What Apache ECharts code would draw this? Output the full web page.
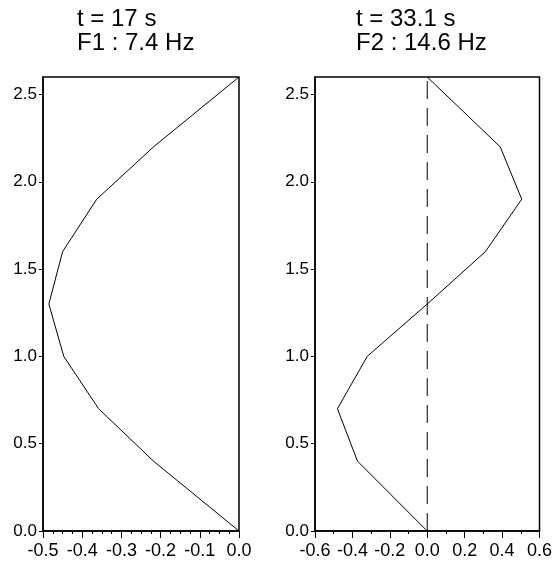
<!DOCTYPE html>
<html>
<head>
<meta charset="utf-8">
<script src="https://cdn.jsdelivr.net/npm/echarts@6/dist/echarts.min.js"></script>
<style>html,body{margin:0;padding:0;background:#fff}#c{width:555px;height:561px}</style>
</head>
<body>
<div id="c"></div>
<script>
const heights = [0.0, 0.4, 0.7, 1.0, 1.3, 1.6, 1.9, 2.2, 2.6];
const mode1 = [0.0, -0.218, -0.358, -0.447, -0.485, -0.45, -0.363, -0.218, 0.0];
const mode2 = [0.0, -0.373, -0.48, -0.321, 0.0, 0.311, 0.505, 0.39, 0.0];
const refX = [0.0, 0.0];
const refY = [0.0, 2.6];
const title1 = ['t = 17 s', 'F1 : 7.4 Hz'];
const title2 = ['t = 33.1 s', 'F2 : 14.6 Hz'];

const FONT = '"Liberation Sans", Arial, sans-serif';
const fmt = v => (Math.abs(v) < 1e-9 ? 0 : v).toFixed(1);

function xAxis(idx, min, max, interval, minorSplit) {
  return {
    type: 'value', gridIndex: idx, min: min, max: max, interval: interval,
    axisLine: {show: true, onZero: false, lineStyle: {color: '#000', width: 1.5}},
    axisTick: {show: true, length: 7, lineStyle: {color: '#000', width: 1}},
    minorTick: {show: true, splitNumber: minorSplit, length: 3, lineStyle: {color: '#000', width: 1}},
    splitLine: {show: false},
    axisLabel: {color: '#000', fontSize: 18, fontFamily: FONT, margin: 11, formatter: fmt, showMinLabel: true, showMaxLabel: true}
  };
}
function yAxis(idx) {
  return {
    type: 'value', gridIndex: idx, min: 0, max: 2.6, interval: 0.5,
    axisLine: {show: true, onZero: false, lineStyle: {color: '#000', width: 1.5}},
    axisTick: {show: true, length: 4, lineStyle: {color: '#000', width: 1}},
    splitLine: {show: false},
    axisLabel: {color: '#000', fontSize: 17, fontFamily: FONT, margin: 6, formatter: fmt, showMaxLabel: false}
  };
}

const chart = echarts.init(document.getElementById('c'), null, {renderer: 'canvas'});
chart.setOption({
  animation: false,
  backgroundColor: '#fff',
  title: [
    {text: title1.join('\n'), left: 77, top: 7, padding: 0, textStyle: {fontSize: 24, fontWeight: 'normal', fontFamily: FONT, color: '#000', lineHeight: 24}},
    {text: title2.join('\n'), left: 356, top: 7, padding: 0, textStyle: {fontSize: 24, fontWeight: 'normal', fontFamily: FONT, color: '#000', lineHeight: 24}}
  ],
  grid: [
    {left: 43, top: 77, width: 196, height: 454, show: true, borderColor: '#000', borderWidth: 1.5, backgroundColor: 'transparent'},
    {left: 315, top: 77, width: 226, height: 454, show: true, borderColor: '#000', borderWidth: 1.5, backgroundColor: 'transparent'}
  ],
  xAxis: [xAxis(0, -0.5, 0.0, 0.1, 4), xAxis(1, -0.6, 0.6, 0.2, 2)],
  yAxis: [yAxis(0), yAxis(1)],
  series: [
    {type: 'line', xAxisIndex: 0, yAxisIndex: 0, symbol: 'none', data: mode1.map((x, i) => [x, heights[i]]), lineStyle: {color: '#000', width: 1}},
    {type: 'line', xAxisIndex: 1, yAxisIndex: 1, symbol: 'none', data: refX.map((x, i) => [x, refY[i]]), lineStyle: {color: '#000', width: 1, type: [18, 9]}},
    {type: 'line', xAxisIndex: 1, yAxisIndex: 1, symbol: 'none', data: mode2.map((x, i) => [x, heights[i]]), lineStyle: {color: '#000', width: 1}}
  ]
});
</script>
</body>
</html>
